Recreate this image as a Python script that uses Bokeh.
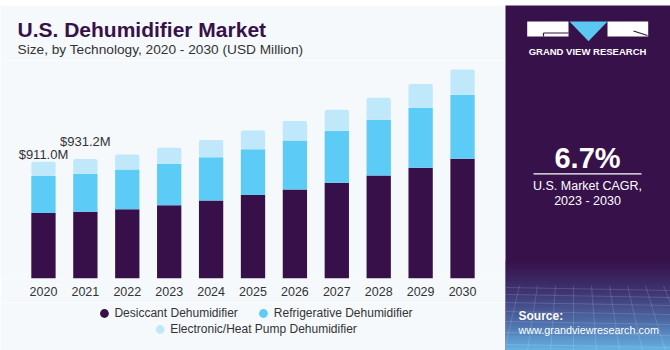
from bokeh.plotting import figure
from bokeh.models import ColumnDataSource, FactorRange, Range1d, Legend, LegendItem
from bokeh.layouts import column, row
from bokeh.embed import file_html
from bokeh.resources import INLINE
from bokeh.core.properties import value

# ---------------- data ----------------
years = ["2020", "2021", "2022", "2023", "2024", "2025", "2026", "2027", "2028", "2029", "2030"]
desiccant = [511, 520.2, 540, 572, 608, 652, 694, 746, 803, 863, 933]
refrigerative = [288, 297, 310, 320, 338, 356, 382, 406, 434, 468, 499]
electronic = [112, 114, 117, 127, 135, 146, 153, 164, 172, 185, 198]
series_names = ["Desiccant Dehumidifier", "Refrigerative Dehumidifier", "Electronic/Heat Pump Dehumidifier"]
label_years = ["2020", "2021"]
label_texts = ["$911.0M", "$931.2M"]
cagr_text = "6.7%"

# ---------------- styles ----------------
FONT = "Liberation Sans"
BG = "#f5f9fc"
PURPLE = "#37114a"
C_DES = "#37104a"
C_REF = "#5ccbf6"
C_ELE = "#bfe9fa"
CYAN = "#5cc8f2"
TXT = "#333333"


def bare(fig, bg):
    fig.background_fill_color = bg
    fig.border_fill_color = bg
    fig.outline_line_color = None
    fig.grid.visible = False
    fig.min_border = 0
    fig.min_border_left = 0
    fig.min_border_right = 0
    fig.min_border_top = 0
    fig.min_border_bottom = 0
    return fig


# top stripe
stripe = figure(width=670, height=5, x_range=Range1d(0, 1), y_range=Range1d(0, 1),
                toolbar_location=None, output_backend="svg",
                x_axis_location=None, y_axis_location=None)
bare(stripe, CYAN)

# ---------------- header ----------------
header = figure(width=505, height=55, x_range=Range1d(0, 505), y_range=Range1d(55, 0),
                toolbar_location=None, output_backend="svg",
                x_axis_location=None, y_axis_location=None)
bare(header, BG)
header.text(x=[17], y=[23.5], text=["U.S. Dehumidifier Market"], text_font=value(FONT),
            text_font_style="bold", text_font_size="21px", text_color=PURPLE,
            text_baseline="middle", text_align="left")
header.text(x=[17], y=[43.5], text=["Size, by Technology, 2020 - 2030 (USD Million)"],
            text_font=value(FONT), text_font_size="13.7px", text_color=TXT,
            text_baseline="middle", text_align="left")

# ---------------- chart ----------------
src = ColumnDataSource(dict(year=years, des=desiccant, ref=refrigerative, ele=electronic))
chart = figure(width=505, height=242,
               x_range=FactorRange(*years, range_padding=0.0955),
               y_range=Range1d(0, 1700), toolbar_location=None, output_backend="svg",
               y_axis_location=None)
bare(chart, BG)
chart.min_border_bottom = 24
rs = chart.vbar_stack(["des", "ref", "ele"], x="year", width=0.58, source=src,
                      color=[C_DES, C_REF, C_ELE], line_color=None)
try:
    rs[2].glyph.border_radius = 2
except Exception:
    pass

totals = [desiccant[years.index(y)] + refrigerative[years.index(y)] + electronic[years.index(y)]
          for y in label_years]
lsrc = ColumnDataSource(dict(x=label_years, y=totals, t=label_texts, off=[-7.5, -18]))
chart.text(x="x", y="y", text="t", y_offset="off", source=lsrc, text_font=value(FONT),
           text_font_size="13px", text_color=TXT, text_align="center",
           text_baseline="middle")

ax = chart.xaxis[0]
ax.axis_line_color = None
ax.major_tick_line_color = None
ax.minor_tick_line_color = None
ax.major_label_standoff = 2
ax.major_label_text_font = FONT
ax.major_label_text_font_size = "12.5px"
ax.major_label_text_color = TXT

# ---------------- legend ----------------
leg = figure(width=505, height=48, x_range=Range1d(0, 505), y_range=Range1d(0, 48),
             toolbar_location=None, output_backend="svg",
             x_axis_location=None, y_axis_location=None)
bare(leg, BG)
dummies = [leg.scatter(x=[-1000], y=[-1000], size=10, marker="circle", fill_color=c, line_color=None)
           for c in [C_DES, C_REF, C_ELE]]


def make_legend(items, loc, margin):
    lg = Legend(items=items, location=loc, orientation="horizontal", margin=margin, padding=0,
                spacing=14, label_standoff=0, glyph_width=22, glyph_height=22, label_height=16,
                label_text_font=FONT, label_text_font_size="12px", label_text_color=TXT,
                background_fill_alpha=0, border_line_color=None)
    return lg


leg1 = make_legend([LegendItem(label=series_names[0], renderers=[dummies[0]]),
                    LegendItem(label=series_names[1], renderers=[dummies[1]])], "top_center", 0)
leg2 = make_legend([LegendItem(label=series_names[2], renderers=[dummies[2]])], "bottom_center", 10)
leg.add_layout(leg1)
leg.add_layout(leg2)

# ---------------- right panel ----------------
rp = figure(width=165, height=345, x_range=Range1d(0, 165), y_range=Range1d(345, 0),
            toolbar_location=None, output_backend="svg",
            x_axis_location=None, y_axis_location=None)
bare(rp, PURPLE)

# bottom gradient
g_top, g_bot = 255, 345
stops = [(0.0, (0x37, 0x11, 0x4a)), (0.35, (0x3f, 0x35, 0x72)), (0.7, (0x4f, 0x6f, 0xaa)),
         (1.0, (0x66, 0xb4, 0xe4))]
nb = 30
tops, bots, cols = [], [], []
for i in range(nb):
    f = (i + 0.5) / nb
    for j in range(len(stops) - 1):
        if stops[j][0] <= f <= stops[j + 1][0]:
            t = (f - stops[j][0]) / (stops[j + 1][0] - stops[j][0])
            c = tuple(int(stops[j][1][k] + t * (stops[j + 1][1][k] - stops[j][1][k])) for k in range(3))
            break
    tops.append(g_top + (g_bot - g_top) * i / nb)
    bots.append(g_top + (g_bot - g_top) * (i + 1) / nb + 0.5)
    cols.append("#%02x%02x%02x" % c)
rp.quad(left=0, right=165, top=tops, bottom=bots, fill_color=cols, line_color=None)

# faint grid lines
gx0 = [-40 + 18 * i for i in range(14)]
rp.segment(x0=gx0, y0=[280] * len(gx0), x1=[g - 30 + 5 * i for i, g in enumerate(gx0)],
           y1=[345] * len(gx0), line_color="white", line_alpha=0.18, line_width=0.8)
gy = [282, 289, 297, 306, 316, 327, 339]
rp.segment(x0=[0] * len(gy), y0=gy, x1=[165] * len(gy), y1=[y + 3 for y in gy],
           line_color="white", line_alpha=0.18, line_width=0.8)

# logo
rp.quad(left=[21.7, 102], right=[63, 142.7], top=[16, 16], bottom=[31, 31],
        fill_color="white", line_color=None)
rp.patch(x=[64, 102, 83], y=[16, 16, 35.7], fill_color=CYAN, line_color=None)
rp.multi_line(xs=[[38, 63], [38, 38], [128, 142]], ys=[[27.5, 27.5], [27.5, 31], [25.5, 30]],
              line_color=PURPLE, line_width=1.2)
rp.text(x=[82], y=[46], text=["GRAND VIEW RESEARCH"], text_font=value(FONT),
        text_font_style="bold", text_font_size="9.5px", text_color="white",
        text_align="center", text_baseline="middle")

rp.text(x=[82], y=[152], text=[cagr_text], text_font=value(FONT), text_font_style="bold",
        text_font_size="29px", text_color="white", text_align="center", text_baseline="middle")
rp.segment(x0=[28], y0=[168.3], x1=[136], y1=[168.3], line_color="white", line_width=1.3)
rp.text(x=[82, 82], y=[180, 195.7], text=["U.S. Market CAGR,", "2023 - 2030"],
        text_font=value(FONT), text_font_size="12.5px", text_color="white",
        text_align="center", text_baseline="middle")

rp.text(x=[13], y=[310], text=["Source:"], text_font=value(FONT), text_font_style="bold",
        text_font_size="12px", text_color="white", text_align="left", text_baseline="middle")
rp.text(x=[13], y=[324], text=["www.grandviewresearch.com"], text_font=value(FONT),
        text_font_size="10.8px", text_color="white", text_align="left", text_baseline="middle")

layout = column(stripe, row(column(header, chart, leg), rp))
open("out.html", "w").write(file_html(layout, INLINE))
